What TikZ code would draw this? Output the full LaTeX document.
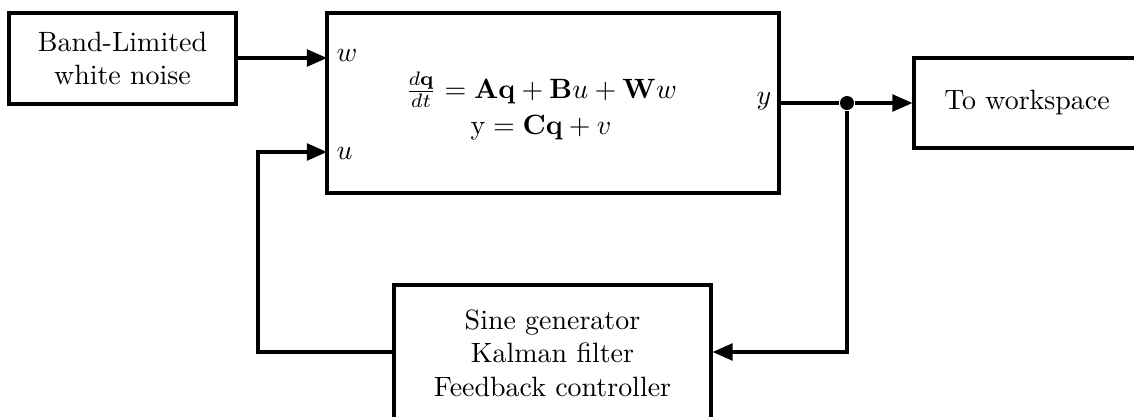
\documentclass[tikz,border=0pt]{standalone}
\usetikzlibrary{arrows.meta}
\begin{document}
\begin{tikzpicture}[x=0.358pt,y=-0.358pt,
  blk/.style={draw,line width=1.1pt,inner sep=0pt,align=center},
  conn/.style={line width=1.1pt},
  arr/.style={conn,-{Triangle[length=7.2pt,width=6pt]}},
  lbl/.style={inner sep=0pt}]
\useasboundingbox (0,0) rectangle (1134,417);
\node[blk,minimum width=227*0.358pt,minimum height=91*0.358pt] (noise) at (122.5,58.5) {Band-Limited\\white noise};
\node[blk,minimum width=452*0.358pt,minimum height=180*0.358pt] (plant) at (553,103) {};
\node[lbl,align=center] (eq) at (541,106) {$\frac{d\mathbf{q}}{dt} = \mathbf{A}\mathbf{q} + \mathbf{B}u + \mathbf{W}w$\\[1pt] $\mathrm{y} = \mathbf{C}\mathbf{q} + v$};
\node[lbl,anchor=west] (wl) at (336,55) {$w$};
\node[lbl,anchor=west] (ul) at (336,153) {$u$};
\node[lbl,anchor=east] (yl) at (772,101) {$y$};
\node[blk,minimum width=226*0.358pt,minimum height=90*0.358pt] (ws) at (1027,103) {To workspace};
\node[blk,minimum width=317*0.358pt,minimum height=136*0.358pt] (ctrl) at (552.5,353) {Sine generator\\Kalman filter\\Feedback controller};
\coordinate (win) at (327,58);
\coordinate (uin) at (327,152);
\coordinate (fbL) at (258,352);
\coordinate (fbLu) at (258,152);
\coordinate (fbR) at (847,352);
\node[circle,fill,inner sep=0pt,minimum size=14*0.358pt] (dot) at (847,103) {};
\draw[arr] (noise.east |- win) -- (win);
\draw[conn] (plant.east |- dot) -- (dot);
\draw[arr] (dot) -- (ws.west |- dot);
\draw[arr] (dot) -- (fbR) -- (ctrl.east |- fbR);
\draw[arr] (ctrl.west |- fbL) -- (fbL) -- (fbLu) -- (uin);
\end{tikzpicture}
\end{document}
